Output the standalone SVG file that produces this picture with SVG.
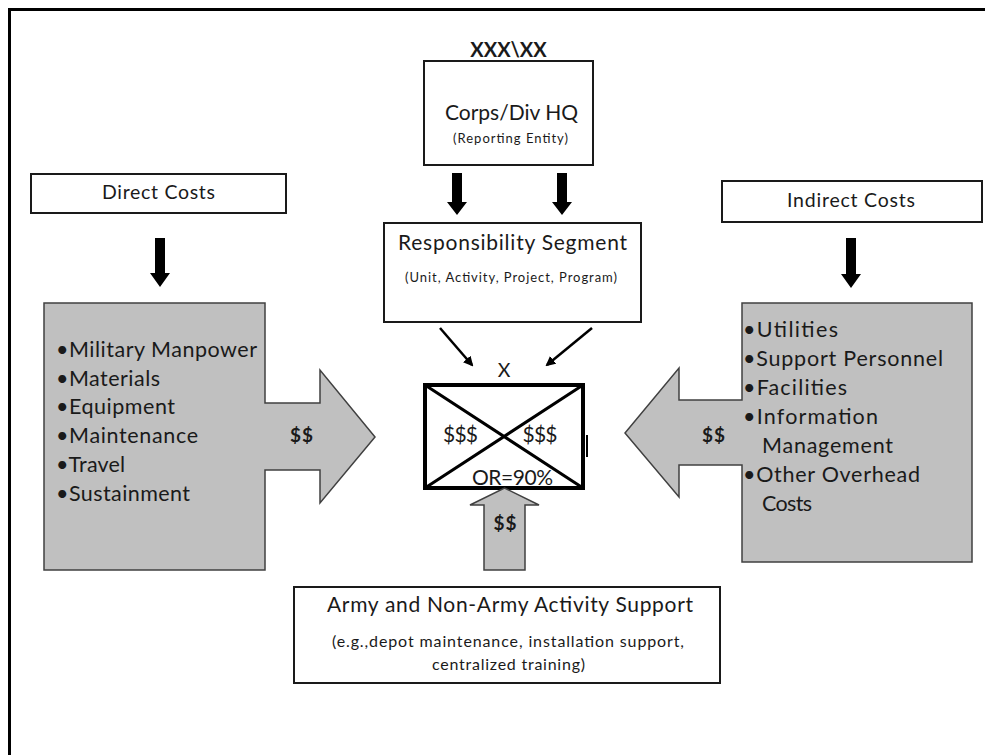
<svg xmlns="http://www.w3.org/2000/svg" width="985" height="755" viewBox="0 0 985 755">
<style>
text{font-family:Lato,"Liberation Sans",Arial,sans-serif;fill:#1a1a1a}
.box{fill:#fff;stroke:#1a1a1a;stroke-width:2}
.gray{fill:#c0c0c0;stroke:#404040;stroke-width:1.5}
.blk{fill:#000}
.b{font-size:21.5px}
.t{font-size:21px}
.s{font-size:13px}
.d{font-size:19px;font-weight:bold}
</style>
<defs>
<marker id="ah" markerWidth="10" markerHeight="10" refX="8" refY="5" orient="auto" markerUnits="userSpaceOnUse" viewBox="0 0 10 10">
<path d="M0,0 L10,5 L0,10 Z" fill="#000"/>
</marker>
</defs>
<rect width="985" height="755" fill="#fff"/>
<path d="M9.5,755 V9.5 H985" fill="none" stroke="#000" stroke-width="3"/>

<g id="corps">
<text x="508.5" y="57" text-anchor="middle" font-family="'Liberation Sans',Arial,sans-serif" font-size="20" font-weight="bold">XXX\XX</text>
<rect class="box" x="424" y="61" width="169" height="104"/>
<text class="t" x="511.5" y="120" text-anchor="middle" textLength="133">Corps/Div HQ</text>
<text class="s" x="510.5" y="143" text-anchor="middle" textLength="115">(Reporting Entity)</text>
</g>

<g id="responsibility">
<rect class="box" x="384" y="223" width="257" height="99"/>
<text class="t" x="512.5" y="250" text-anchor="middle" textLength="229">Responsibility Segment</text>
<text class="s" x="511" y="282" text-anchor="middle" textLength="212">(Unit, Activity, Project, Program)</text>
</g>

<g id="center">
<text x="504" y="377" text-anchor="middle" font-size="19.5">X</text>
<rect x="425" y="385" width="158" height="103" fill="#fff" stroke="#000" stroke-width="4"/>
<path d="M425,385 L583,488 M425,488 L583,385" stroke="#000" stroke-width="3"/>
<path d="M587,435 V457" stroke="#000" stroke-width="2"/>
<text class="t" x="460.5" y="442" text-anchor="middle" textLength="35">$$$</text>
<text class="t" x="540" y="442" text-anchor="middle" textLength="35">$$$</text>
<text class="t" x="512.5" y="485" text-anchor="middle" textLength="81">OR=90%</text>
</g>

<g id="direct-costs">
<rect class="box" x="31" y="174" width="255" height="39"/>
<text x="158.5" y="199" text-anchor="middle" font-size="19.5" textLength="113">Direct Costs</text>
</g>

<g id="direct-items">
<path class="gray" d="M44,303 H265 V403 H320 V370 L375,437 L320,503 V470 H265 V570 H44 Z"/>
<text class="b" x="56" y="357" textLength="201">•Military Manpower</text>
<text class="b" x="56" y="386" textLength="104">•Materials</text>
<text class="b" x="56" y="414" textLength="119">•Equipment</text>
<text class="b" x="56" y="443" textLength="142">•Maintenance</text>
<text class="b" x="56" y="472" textLength="69">•Travel</text>
<text class="b" x="56" y="501" textLength="134">•Sustainment</text>
<text class="d" x="301.5" y="442" text-anchor="middle" textLength="23">$$</text>
</g>

<g id="indirect-costs">
<rect class="box" x="722" y="181" width="260" height="41"/>
<text x="851" y="207" text-anchor="middle" font-size="19.5" textLength="128">Indirect Costs</text>
</g>

<g id="indirect-items">
<path class="gray" d="M742,303 H972 V562 H742 V465 H679 V497 L625,433 L679,368 V400 H742 Z"/>
<text class="b" x="743" y="337" textLength="95">•Utilities</text>
<text class="b" x="743" y="366" textLength="200">•Support Personnel</text>
<text class="b" x="743" y="395" textLength="104">•Facilities</text>
<text class="b" x="743" y="424" textLength="135">•Information</text>
<text class="b" x="762" y="453" textLength="131">Management</text>
<text class="b" x="743" y="482" textLength="177">•Other Overhead</text>
<text class="b" x="762" y="511" textLength="50">Costs</text>
<text class="d" x="713.5" y="442" text-anchor="middle" textLength="23">$$</text>
</g>

<g id="support">
<path class="gray" d="M484,570 V505 H470 L504.5,488 L539,505 H525 V570 Z"/>
<text class="d" x="505" y="530" text-anchor="middle" textLength="23">$$</text>
<rect class="box" x="294" y="587" width="426" height="96"/>
<text class="t" x="327" y="612" textLength="366">Army and Non-Army Activity Support</text>
<text x="508" y="647" text-anchor="middle" font-size="16" textLength="352">(e.g.,depot maintenance, installation  support,</text>
<text x="508.5" y="670" text-anchor="middle" font-size="16" textLength="153">centralized training)</text>
</g>

<g id="connectors">
<path class="blk" d="M155,238 H165 V273 H170 L160,287 L150,273 H155 Z"/>
<path class="blk" d="M452,173 H462 V202 H467 L457,215 L447,202 H452 Z"/>
<path class="blk" d="M557,173 H567 V202 H572 L562,215 L552,202 H557 Z"/>
<path class="blk" d="M846,238 H856 V274 H861 L851,288 L841,274 H846 Z"/>
<line x1="440" y1="328" x2="472" y2="365" stroke="#000" stroke-width="2.5" marker-end="url(#ah)"/>
<line x1="592" y1="328" x2="547" y2="365" stroke="#000" stroke-width="2.5" marker-end="url(#ah)"/>
</g>
</svg>
